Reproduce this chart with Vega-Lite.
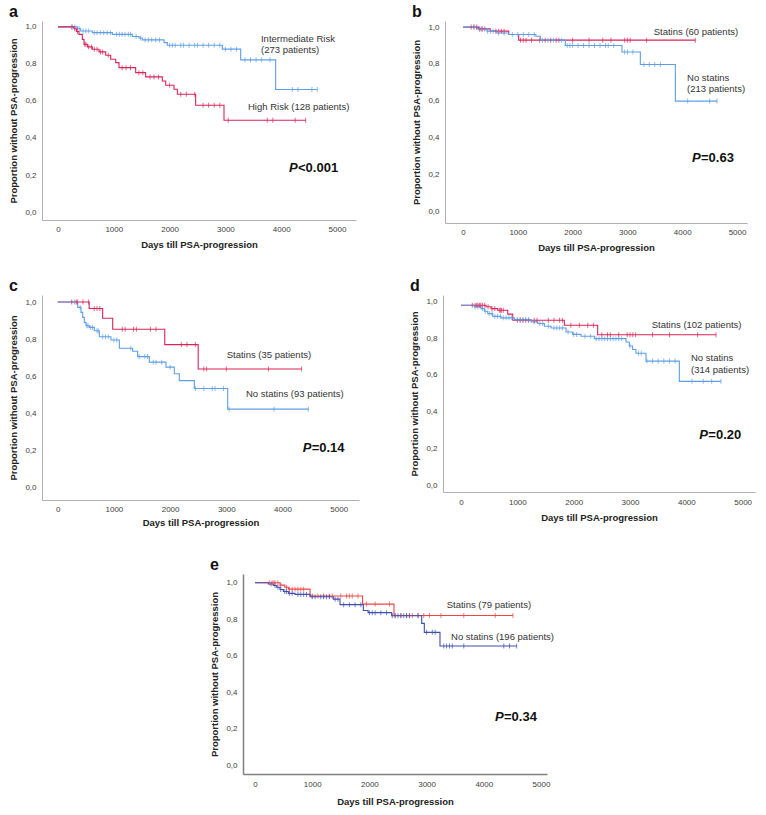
{
"$schema":"https://vega.github.io/schema/vega-lite/v6.json",
"background":"white",
"padding":{"left":8,"top":4,"right":5,"bottom":5},
"config":{"view":{"stroke":null},"font":"Liberation Sans",
 "locale":{"number":{"decimal":",","thousands":"","grouping":[3],"currency":["",""]}},
 "axis":{"domainColor":"#b0b0b0","domainWidth":1,"ticks":false,"grid":false,"labelOverlap":false,"labelFontSize":8,"labelColor":"#404040","titleFontSize":9.5,"titleFontWeight":"bold","titleColor":"#222222","labelFont":"Liberation Sans","titleFont":"Liberation Sans"},
 "axisY":{"labelOverlap":false,"labelBound":false,"tickCount":12},
 "axisX":{"tickCount":12},
 "title":{"anchor":"start","frame":"bounds","fontSize":16,"fontWeight":"bold","font":"Liberation Sans","color":"#111111","offset":1},
 "text":{"font":"Liberation Sans","fontSize":9.5,"color":"#333333","align":"left","baseline":"middle"}
},
"datasets":{
"a":[
{"g":"I","t":0,"s":1,"c":0},{"g":"I","t":350,"s":0.99,"c":0},{"g":"I","t":406,"s":0.978,"c":0},{"g":"I","t":615,"s":0.969,"c":0},{"g":"I","t":974,"s":0.96,"c":0},{"g":"I","t":1332,"s":0.948,"c":0},{"g":"I","t":1452,"s":0.94,"c":0},{"g":"I","t":1511,"s":0.93,"c":0},{"g":"I","t":1900,"s":0.915,"c":0},{"g":"I","t":1959,"s":0.901,"c":0},{"g":"I","t":2945,"s":0.88,"c":0},{"g":"I","t":3274,"s":0.822,"c":0},{"g":"I","t":3901,"s":0.662,"c":0},
{"g":"I","t":250,"s":1,"c":1},{"g":"I","t":300,"s":1,"c":1},{"g":"I","t":380,"s":0.99,"c":1},{"g":"I","t":450,"s":0.978,"c":1},{"g":"I","t":500,"s":0.978,"c":1},{"g":"I","t":550,"s":0.978,"c":1},{"g":"I","t":650,"s":0.969,"c":1},{"g":"I","t":700,"s":0.969,"c":1},{"g":"I","t":760,"s":0.969,"c":1},{"g":"I","t":820,"s":0.969,"c":1},{"g":"I","t":880,"s":0.969,"c":1},{"g":"I","t":940,"s":0.969,"c":1},{"g":"I","t":1050,"s":0.96,"c":1},{"g":"I","t":1100,"s":0.96,"c":1},{"g":"I","t":1150,"s":0.96,"c":1},{"g":"I","t":1200,"s":0.96,"c":1},{"g":"I","t":1260,"s":0.96,"c":1},{"g":"I","t":1300,"s":0.96,"c":1},{"g":"I","t":1400,"s":0.948,"c":1},{"g":"I","t":1480,"s":0.94,"c":1},{"g":"I","t":1560,"s":0.93,"c":1},{"g":"I","t":1620,"s":0.93,"c":1},{"g":"I","t":1680,"s":0.93,"c":1},{"g":"I","t":1750,"s":0.93,"c":1},{"g":"I","t":1820,"s":0.93,"c":1},{"g":"I","t":2000,"s":0.901,"c":1},{"g":"I","t":2050,"s":0.901,"c":1},{"g":"I","t":2100,"s":0.901,"c":1},{"g":"I","t":2200,"s":0.901,"c":1},{"g":"I","t":2250,"s":0.901,"c":1},{"g":"I","t":2350,"s":0.901,"c":1},{"g":"I","t":2450,"s":0.901,"c":1},{"g":"I","t":2500,"s":0.901,"c":1},{"g":"I","t":2600,"s":0.901,"c":1},{"g":"I","t":2700,"s":0.901,"c":1},{"g":"I","t":2800,"s":0.901,"c":1},{"g":"I","t":2900,"s":0.901,"c":1},{"g":"I","t":3000,"s":0.88,"c":1},{"g":"I","t":3100,"s":0.88,"c":1},{"g":"I","t":3200,"s":0.88,"c":1},{"g":"I","t":3350,"s":0.822,"c":1},{"g":"I","t":3450,"s":0.822,"c":1},{"g":"I","t":3550,"s":0.822,"c":1},{"g":"I","t":3650,"s":0.822,"c":1},{"g":"I","t":3800,"s":0.822,"c":1},{"g":"I","t":4200,"s":0.662,"c":1},{"g":"I","t":4300,"s":0.662,"c":1},{"g":"I","t":4550,"s":0.662,"c":1},{"g":"I","t":4648,"s":0.662,"c":1},
{"g":"H","t":0,"s":1,"c":0},{"g":"H","t":287,"s":0.99,"c":0},{"g":"H","t":330,"s":0.975,"c":0},{"g":"H","t":376,"s":0.96,"c":0},{"g":"H","t":436,"s":0.933,"c":0},{"g":"H","t":466,"s":0.906,"c":0},{"g":"H","t":526,"s":0.892,"c":0},{"g":"H","t":615,"s":0.879,"c":0},{"g":"H","t":735,"s":0.865,"c":0},{"g":"H","t":855,"s":0.847,"c":0},{"g":"H","t":944,"s":0.825,"c":0},{"g":"H","t":1034,"s":0.807,"c":0},{"g":"H","t":1093,"s":0.78,"c":0},{"g":"H","t":1392,"s":0.753,"c":0},{"g":"H","t":1571,"s":0.73,"c":0},{"g":"H","t":1870,"s":0.708,"c":0},{"g":"H","t":1930,"s":0.685,"c":0},{"g":"H","t":2079,"s":0.663,"c":0},{"g":"H","t":2139,"s":0.636,"c":0},{"g":"H","t":2467,"s":0.577,"c":0},{"g":"H","t":2975,"s":0.496,"c":0},
{"g":"H","t":250,"s":1,"c":1},{"g":"H","t":300,"s":0.99,"c":1},{"g":"H","t":350,"s":0.975,"c":1},{"g":"H","t":480,"s":0.906,"c":1},{"g":"H","t":500,"s":0.906,"c":1},{"g":"H","t":550,"s":0.892,"c":1},{"g":"H","t":600,"s":0.892,"c":1},{"g":"H","t":650,"s":0.879,"c":1},{"g":"H","t":700,"s":0.879,"c":1},{"g":"H","t":760,"s":0.865,"c":1},{"g":"H","t":800,"s":0.865,"c":1},{"g":"H","t":900,"s":0.847,"c":1},{"g":"H","t":1150,"s":0.78,"c":1},{"g":"H","t":1220,"s":0.78,"c":1},{"g":"H","t":1300,"s":0.78,"c":1},{"g":"H","t":1450,"s":0.753,"c":1},{"g":"H","t":1520,"s":0.753,"c":1},{"g":"H","t":1650,"s":0.73,"c":1},{"g":"H","t":1720,"s":0.73,"c":1},{"g":"H","t":1800,"s":0.73,"c":1},{"g":"H","t":2000,"s":0.685,"c":1},{"g":"H","t":2200,"s":0.636,"c":1},{"g":"H","t":2300,"s":0.636,"c":1},{"g":"H","t":2450,"s":0.636,"c":1},{"g":"H","t":2600,"s":0.577,"c":1},{"g":"H","t":2700,"s":0.577,"c":1},{"g":"H","t":2800,"s":0.577,"c":1},{"g":"H","t":2900,"s":0.577,"c":1},{"g":"H","t":3050,"s":0.496,"c":1},{"g":"H","t":3750,"s":0.496,"c":1},{"g":"H","t":3850,"s":0.496,"c":1},{"g":"H","t":4250,"s":0.496,"c":1},{"g":"H","t":4439,"s":0.496,"c":1}
],
"b":[
{"g":"S","t":0,"s":1,"c":0},{"g":"S","t":286,"s":0.99,"c":0},{"g":"S","t":499,"s":0.978,"c":0},{"g":"S","t":834,"s":0.96,"c":0},{"g":"S","t":1016,"s":0.929,"c":0},
{"g":"S","t":150,"s":1,"c":1},{"g":"S","t":200,"s":1,"c":1},{"g":"S","t":250,"s":1,"c":1},{"g":"S","t":300,"s":0.99,"c":1},{"g":"S","t":330,"s":0.99,"c":1},{"g":"S","t":360,"s":0.99,"c":1},{"g":"S","t":400,"s":0.99,"c":1},{"g":"S","t":600,"s":0.978,"c":1},{"g":"S","t":650,"s":0.978,"c":1},{"g":"S","t":700,"s":0.978,"c":1},{"g":"S","t":750,"s":0.978,"c":1},{"g":"S","t":1050,"s":0.929,"c":1},{"g":"S","t":1100,"s":0.929,"c":1},{"g":"S","t":1150,"s":0.929,"c":1},{"g":"S","t":1250,"s":0.929,"c":1},{"g":"S","t":1400,"s":0.929,"c":1},{"g":"S","t":1500,"s":0.929,"c":1},{"g":"S","t":1600,"s":0.929,"c":1},{"g":"S","t":1700,"s":0.929,"c":1},{"g":"S","t":1750,"s":0.929,"c":1},{"g":"S","t":2000,"s":0.929,"c":1},{"g":"S","t":2300,"s":0.929,"c":1},{"g":"S","t":2550,"s":0.929,"c":1},{"g":"S","t":2700,"s":0.929,"c":1},{"g":"S","t":2950,"s":0.929,"c":1},{"g":"S","t":3000,"s":0.929,"c":1},{"g":"S","t":3050,"s":0.929,"c":1},{"g":"S","t":3350,"s":0.929,"c":1},{"g":"S","t":4239,"s":0.929,"c":1},
{"g":"N","t":0,"s":1,"c":0},{"g":"N","t":255,"s":0.99,"c":0},{"g":"N","t":438,"s":0.978,"c":0},{"g":"N","t":620,"s":0.968,"c":0},{"g":"N","t":834,"s":0.96,"c":0},{"g":"N","t":1330,"s":0.95,"c":0},{"g":"N","t":1411,"s":0.929,"c":0},{"g":"N","t":1867,"s":0.9,"c":0},{"g":"N","t":2901,"s":0.865,"c":0},{"g":"N","t":3236,"s":0.797,"c":0},{"g":"N","t":3875,"s":0.598,"c":0},
{"g":"N","t":200,"s":1,"c":1},{"g":"N","t":300,"s":0.99,"c":1},{"g":"N","t":350,"s":0.99,"c":1},{"g":"N","t":450,"s":0.978,"c":1},{"g":"N","t":500,"s":0.978,"c":1},{"g":"N","t":550,"s":0.978,"c":1},{"g":"N","t":650,"s":0.968,"c":1},{"g":"N","t":750,"s":0.968,"c":1},{"g":"N","t":900,"s":0.96,"c":1},{"g":"N","t":1000,"s":0.96,"c":1},{"g":"N","t":1100,"s":0.96,"c":1},{"g":"N","t":1200,"s":0.96,"c":1},{"g":"N","t":1300,"s":0.96,"c":1},{"g":"N","t":1450,"s":0.929,"c":1},{"g":"N","t":1550,"s":0.929,"c":1},{"g":"N","t":1650,"s":0.929,"c":1},{"g":"N","t":1800,"s":0.929,"c":1},{"g":"N","t":1900,"s":0.9,"c":1},{"g":"N","t":1950,"s":0.9,"c":1},{"g":"N","t":2000,"s":0.9,"c":1},{"g":"N","t":2100,"s":0.9,"c":1},{"g":"N","t":2200,"s":0.9,"c":1},{"g":"N","t":2300,"s":0.9,"c":1},{"g":"N","t":2400,"s":0.9,"c":1},{"g":"N","t":2500,"s":0.9,"c":1},{"g":"N","t":2600,"s":0.9,"c":1},{"g":"N","t":2650,"s":0.9,"c":1},{"g":"N","t":2750,"s":0.9,"c":1},{"g":"N","t":2950,"s":0.865,"c":1},{"g":"N","t":3000,"s":0.865,"c":1},{"g":"N","t":3100,"s":0.865,"c":1},{"g":"N","t":3300,"s":0.797,"c":1},{"g":"N","t":3400,"s":0.797,"c":1},{"g":"N","t":3500,"s":0.797,"c":1},{"g":"N","t":3600,"s":0.797,"c":1},{"g":"N","t":4100,"s":0.598,"c":1},{"g":"N","t":4500,"s":0.598,"c":1},{"g":"N","t":4635,"s":0.598,"c":1}
],
"c":[
{"g":"S","t":0,"s":1,"c":0},{"g":"S","t":560,"s":0.965,"c":0},{"g":"S","t":800,"s":0.912,"c":0},{"g":"S","t":979,"s":0.853,"c":0},{"g":"S","t":1905,"s":0.77,"c":0},{"g":"S","t":2500,"s":0.638,"c":0},
{"g":"S","t":250,"s":1,"c":1},{"g":"S","t":330,"s":1,"c":1},{"g":"S","t":350,"s":1,"c":1},{"g":"S","t":450,"s":1,"c":1},{"g":"S","t":550,"s":1,"c":1},{"g":"S","t":650,"s":0.965,"c":1},{"g":"S","t":700,"s":0.965,"c":1},{"g":"S","t":750,"s":0.965,"c":1},{"g":"S","t":1150,"s":0.853,"c":1},{"g":"S","t":1200,"s":0.853,"c":1},{"g":"S","t":1350,"s":0.853,"c":1},{"g":"S","t":1400,"s":0.853,"c":1},{"g":"S","t":1650,"s":0.853,"c":1},{"g":"S","t":1750,"s":0.853,"c":1},{"g":"S","t":2200,"s":0.77,"c":1},{"g":"S","t":2300,"s":0.77,"c":1},{"g":"S","t":2450,"s":0.77,"c":1},{"g":"S","t":2600,"s":0.638,"c":1},{"g":"S","t":2650,"s":0.638,"c":1},{"g":"S","t":3000,"s":0.638,"c":1},{"g":"S","t":3750,"s":0.638,"c":1},{"g":"S","t":4340,"s":0.638,"c":1},
{"g":"N","t":0,"s":1,"c":0},{"g":"N","t":356,"s":0.971,"c":0},{"g":"N","t":415,"s":0.944,"c":0},{"g":"N","t":445,"s":0.917,"c":0},{"g":"N","t":474,"s":0.89,"c":0},{"g":"N","t":504,"s":0.872,"c":0},{"g":"N","t":563,"s":0.863,"c":0},{"g":"N","t":652,"s":0.845,"c":0},{"g":"N","t":741,"s":0.812,"c":0},{"g":"N","t":948,"s":0.795,"c":0},{"g":"N","t":1097,"s":0.75,"c":0},{"g":"N","t":1334,"s":0.734,"c":0},{"g":"N","t":1423,"s":0.705,"c":0},{"g":"N","t":1630,"s":0.675,"c":0},{"g":"N","t":1927,"s":0.648,"c":0},{"g":"N","t":2075,"s":0.612,"c":0},{"g":"N","t":2164,"s":0.575,"c":0},{"g":"N","t":2431,"s":0.533,"c":0},{"g":"N","t":3025,"s":0.421,"c":0},
{"g":"N","t":300,"s":1,"c":1},{"g":"N","t":400,"s":0.971,"c":1},{"g":"N","t":520,"s":0.872,"c":1},{"g":"N","t":540,"s":0.872,"c":1},{"g":"N","t":580,"s":0.863,"c":1},{"g":"N","t":620,"s":0.863,"c":1},{"g":"N","t":700,"s":0.845,"c":1},{"g":"N","t":720,"s":0.845,"c":1},{"g":"N","t":800,"s":0.812,"c":1},{"g":"N","t":850,"s":0.812,"c":1},{"g":"N","t":900,"s":0.812,"c":1},{"g":"N","t":1000,"s":0.795,"c":1},{"g":"N","t":1050,"s":0.795,"c":1},{"g":"N","t":1300,"s":0.75,"c":1},{"g":"N","t":1450,"s":0.705,"c":1},{"g":"N","t":1550,"s":0.705,"c":1},{"g":"N","t":1600,"s":0.705,"c":1},{"g":"N","t":1700,"s":0.675,"c":1},{"g":"N","t":1750,"s":0.675,"c":1},{"g":"N","t":1850,"s":0.675,"c":1},{"g":"N","t":2000,"s":0.648,"c":1},{"g":"N","t":2450,"s":0.533,"c":1},{"g":"N","t":2600,"s":0.533,"c":1},{"g":"N","t":2750,"s":0.533,"c":1},{"g":"N","t":2800,"s":0.533,"c":1},{"g":"N","t":2950,"s":0.533,"c":1},{"g":"N","t":3050,"s":0.421,"c":1},{"g":"N","t":3850,"s":0.421,"c":1},{"g":"N","t":4460,"s":0.421,"c":1}
],
"d":[
{"g":"S","t":0,"s":0.978,"c":0},{"g":"S","t":444,"s":0.97,"c":0},{"g":"S","t":533,"s":0.96,"c":0},{"g":"S","t":651,"s":0.951,"c":0},{"g":"S","t":829,"s":0.93,"c":0},{"g":"S","t":918,"s":0.897,"c":0},{"g":"S","t":1834,"s":0.87,"c":0},{"g":"S","t":2426,"s":0.818,"c":0},
{"g":"S","t":200,"s":0.978,"c":1},{"g":"S","t":250,"s":0.978,"c":1},{"g":"S","t":280,"s":0.978,"c":1},{"g":"S","t":300,"s":0.978,"c":1},{"g":"S","t":330,"s":0.978,"c":1},{"g":"S","t":350,"s":0.978,"c":1},{"g":"S","t":380,"s":0.978,"c":1},{"g":"S","t":420,"s":0.978,"c":1},{"g":"S","t":480,"s":0.97,"c":1},{"g":"S","t":550,"s":0.96,"c":1},{"g":"S","t":600,"s":0.96,"c":1},{"g":"S","t":680,"s":0.951,"c":1},{"g":"S","t":700,"s":0.951,"c":1},{"g":"S","t":720,"s":0.951,"c":1},{"g":"S","t":750,"s":0.951,"c":1},{"g":"S","t":1000,"s":0.897,"c":1},{"g":"S","t":1050,"s":0.897,"c":1},{"g":"S","t":1100,"s":0.897,"c":1},{"g":"S","t":1150,"s":0.897,"c":1},{"g":"S","t":1200,"s":0.897,"c":1},{"g":"S","t":1300,"s":0.897,"c":1},{"g":"S","t":1350,"s":0.897,"c":1},{"g":"S","t":1550,"s":0.897,"c":1},{"g":"S","t":1650,"s":0.897,"c":1},{"g":"S","t":1750,"s":0.897,"c":1},{"g":"S","t":1800,"s":0.897,"c":1},{"g":"S","t":1950,"s":0.87,"c":1},{"g":"S","t":2100,"s":0.87,"c":1},{"g":"S","t":2250,"s":0.87,"c":1},{"g":"S","t":2350,"s":0.87,"c":1},{"g":"S","t":2500,"s":0.818,"c":1},{"g":"S","t":2600,"s":0.818,"c":1},{"g":"S","t":2650,"s":0.818,"c":1},{"g":"S","t":2800,"s":0.818,"c":1},{"g":"S","t":2950,"s":0.818,"c":1},{"g":"S","t":3000,"s":0.818,"c":1},{"g":"S","t":3050,"s":0.818,"c":1},{"g":"S","t":3100,"s":0.818,"c":1},{"g":"S","t":3400,"s":0.818,"c":1},{"g":"S","t":3700,"s":0.818,"c":1},{"g":"S","t":4200,"s":0.818,"c":1},{"g":"S","t":4527,"s":0.818,"c":1},
{"g":"N","t":0,"s":0.978,"c":0},{"g":"N","t":237,"s":0.97,"c":0},{"g":"N","t":355,"s":0.96,"c":0},{"g":"N","t":414,"s":0.946,"c":0},{"g":"N","t":474,"s":0.933,"c":0},{"g":"N","t":562,"s":0.918,"c":0},{"g":"N","t":710,"s":0.91,"c":0},{"g":"N","t":947,"s":0.9,"c":0},{"g":"N","t":1243,"s":0.888,"c":0},{"g":"N","t":1361,"s":0.879,"c":0},{"g":"N","t":1480,"s":0.864,"c":0},{"g":"N","t":1598,"s":0.855,"c":0},{"g":"N","t":1864,"s":0.833,"c":0},{"g":"N","t":1982,"s":0.82,"c":0},{"g":"N","t":2130,"s":0.81,"c":0},{"g":"N","t":2367,"s":0.797,"c":0},{"g":"N","t":2929,"s":0.779,"c":0},{"g":"N","t":2988,"s":0.757,"c":0},{"g":"N","t":3047,"s":0.738,"c":0},{"g":"N","t":3106,"s":0.718,"c":0},{"g":"N","t":3284,"s":0.675,"c":0},{"g":"N","t":3876,"s":0.565,"c":0},
{"g":"N","t":250,"s":0.97,"c":1},{"g":"N","t":300,"s":0.97,"c":1},{"g":"N","t":380,"s":0.96,"c":1},{"g":"N","t":430,"s":0.946,"c":1},{"g":"N","t":500,"s":0.933,"c":1},{"g":"N","t":550,"s":0.933,"c":1},{"g":"N","t":600,"s":0.918,"c":1},{"g":"N","t":650,"s":0.918,"c":1},{"g":"N","t":700,"s":0.918,"c":1},{"g":"N","t":750,"s":0.91,"c":1},{"g":"N","t":800,"s":0.91,"c":1},{"g":"N","t":850,"s":0.91,"c":1},{"g":"N","t":900,"s":0.91,"c":1},{"g":"N","t":1000,"s":0.9,"c":1},{"g":"N","t":1050,"s":0.9,"c":1},{"g":"N","t":1100,"s":0.9,"c":1},{"g":"N","t":1150,"s":0.9,"c":1},{"g":"N","t":1200,"s":0.9,"c":1},{"g":"N","t":1300,"s":0.888,"c":1},{"g":"N","t":1400,"s":0.879,"c":1},{"g":"N","t":1450,"s":0.879,"c":1},{"g":"N","t":1550,"s":0.864,"c":1},{"g":"N","t":1650,"s":0.855,"c":1},{"g":"N","t":1700,"s":0.855,"c":1},{"g":"N","t":1750,"s":0.855,"c":1},{"g":"N","t":1800,"s":0.855,"c":1},{"g":"N","t":1900,"s":0.833,"c":1},{"g":"N","t":2000,"s":0.82,"c":1},{"g":"N","t":2050,"s":0.82,"c":1},{"g":"N","t":2200,"s":0.81,"c":1},{"g":"N","t":2300,"s":0.81,"c":1},{"g":"N","t":2400,"s":0.797,"c":1},{"g":"N","t":2450,"s":0.797,"c":1},{"g":"N","t":2500,"s":0.797,"c":1},{"g":"N","t":2550,"s":0.797,"c":1},{"g":"N","t":2600,"s":0.797,"c":1},{"g":"N","t":2650,"s":0.797,"c":1},{"g":"N","t":2700,"s":0.797,"c":1},{"g":"N","t":2750,"s":0.797,"c":1},{"g":"N","t":2800,"s":0.797,"c":1},{"g":"N","t":2850,"s":0.797,"c":1},{"g":"N","t":3000,"s":0.757,"c":1},{"g":"N","t":3150,"s":0.718,"c":1},{"g":"N","t":3200,"s":0.718,"c":1},{"g":"N","t":3300,"s":0.675,"c":1},{"g":"N","t":3400,"s":0.675,"c":1},{"g":"N","t":3500,"s":0.675,"c":1},{"g":"N","t":3600,"s":0.675,"c":1},{"g":"N","t":3700,"s":0.675,"c":1},{"g":"N","t":3800,"s":0.675,"c":1},{"g":"N","t":4100,"s":0.565,"c":1},{"g":"N","t":4300,"s":0.565,"c":1},{"g":"N","t":4450,"s":0.565,"c":1},{"g":"N","t":4615,"s":0.565,"c":1}
],
"e":[
{"g":"S","t":0,"s":1,"c":0},{"g":"S","t":437,"s":0.987,"c":0},{"g":"S","t":520,"s":0.975,"c":0},{"g":"S","t":583,"s":0.965,"c":0},{"g":"S","t":962,"s":0.927,"c":0},{"g":"S","t":1880,"s":0.883,"c":0},{"g":"S","t":2430,"s":0.82,"c":0},
{"g":"S","t":250,"s":1,"c":1},{"g":"S","t":300,"s":1,"c":1},{"g":"S","t":330,"s":1,"c":1},{"g":"S","t":350,"s":1,"c":1},{"g":"S","t":400,"s":1,"c":1},{"g":"S","t":450,"s":0.987,"c":1},{"g":"S","t":550,"s":0.975,"c":1},{"g":"S","t":600,"s":0.965,"c":1},{"g":"S","t":650,"s":0.965,"c":1},{"g":"S","t":700,"s":0.965,"c":1},{"g":"S","t":750,"s":0.965,"c":1},{"g":"S","t":800,"s":0.965,"c":1},{"g":"S","t":850,"s":0.965,"c":1},{"g":"S","t":1000,"s":0.927,"c":1},{"g":"S","t":1100,"s":0.927,"c":1},{"g":"S","t":1200,"s":0.927,"c":1},{"g":"S","t":1300,"s":0.927,"c":1},{"g":"S","t":1350,"s":0.927,"c":1},{"g":"S","t":1500,"s":0.927,"c":1},{"g":"S","t":1600,"s":0.927,"c":1},{"g":"S","t":1650,"s":0.927,"c":1},{"g":"S","t":1700,"s":0.927,"c":1},{"g":"S","t":1800,"s":0.927,"c":1},{"g":"S","t":1950,"s":0.883,"c":1},{"g":"S","t":2100,"s":0.883,"c":1},{"g":"S","t":2350,"s":0.883,"c":1},{"g":"S","t":2450,"s":0.82,"c":1},{"g":"S","t":2550,"s":0.82,"c":1},{"g":"S","t":2650,"s":0.82,"c":1},{"g":"S","t":2700,"s":0.82,"c":1},{"g":"S","t":2750,"s":0.82,"c":1},{"g":"S","t":2850,"s":0.82,"c":1},{"g":"S","t":2950,"s":0.82,"c":1},{"g":"S","t":3050,"s":0.82,"c":1},{"g":"S","t":3250,"s":0.82,"c":1},{"g":"S","t":3650,"s":0.82,"c":1},{"g":"S","t":4200,"s":0.82,"c":1},{"g":"S","t":4510,"s":0.82,"c":1},
{"g":"N","t":0,"s":1,"c":0},{"g":"N","t":233,"s":0.993,"c":0},{"g":"N","t":320,"s":0.985,"c":0},{"g":"N","t":379,"s":0.975,"c":0},{"g":"N","t":437,"s":0.963,"c":0},{"g":"N","t":496,"s":0.952,"c":0},{"g":"N","t":583,"s":0.942,"c":0},{"g":"N","t":700,"s":0.936,"c":0},{"g":"N","t":962,"s":0.923,"c":0},{"g":"N","t":1369,"s":0.91,"c":0},{"g":"N","t":1486,"s":0.88,"c":0},{"g":"N","t":1894,"s":0.848,"c":0},{"g":"N","t":1977,"s":0.836,"c":0},{"g":"N","t":2389,"s":0.819,"c":0},{"g":"N","t":2914,"s":0.777,"c":0},{"g":"N","t":2960,"s":0.728,"c":0},{"g":"N","t":3234,"s":0.653,"c":0},
{"g":"N","t":280,"s":0.993,"c":1},{"g":"N","t":350,"s":0.985,"c":1},{"g":"N","t":400,"s":0.975,"c":1},{"g":"N","t":450,"s":0.963,"c":1},{"g":"N","t":520,"s":0.952,"c":1},{"g":"N","t":550,"s":0.952,"c":1},{"g":"N","t":600,"s":0.942,"c":1},{"g":"N","t":650,"s":0.942,"c":1},{"g":"N","t":750,"s":0.936,"c":1},{"g":"N","t":800,"s":0.936,"c":1},{"g":"N","t":850,"s":0.936,"c":1},{"g":"N","t":900,"s":0.936,"c":1},{"g":"N","t":1000,"s":0.923,"c":1},{"g":"N","t":1050,"s":0.923,"c":1},{"g":"N","t":1150,"s":0.923,"c":1},{"g":"N","t":1200,"s":0.923,"c":1},{"g":"N","t":1250,"s":0.923,"c":1},{"g":"N","t":1300,"s":0.923,"c":1},{"g":"N","t":1400,"s":0.91,"c":1},{"g":"N","t":1450,"s":0.91,"c":1},{"g":"N","t":1550,"s":0.88,"c":1},{"g":"N","t":1650,"s":0.88,"c":1},{"g":"N","t":1750,"s":0.88,"c":1},{"g":"N","t":1850,"s":0.88,"c":1},{"g":"N","t":2000,"s":0.836,"c":1},{"g":"N","t":2050,"s":0.836,"c":1},{"g":"N","t":2100,"s":0.836,"c":1},{"g":"N","t":2200,"s":0.836,"c":1},{"g":"N","t":2300,"s":0.836,"c":1},{"g":"N","t":2400,"s":0.819,"c":1},{"g":"N","t":2450,"s":0.819,"c":1},{"g":"N","t":2500,"s":0.819,"c":1},{"g":"N","t":2550,"s":0.819,"c":1},{"g":"N","t":2600,"s":0.819,"c":1},{"g":"N","t":2650,"s":0.819,"c":1},{"g":"N","t":2700,"s":0.819,"c":1},{"g":"N","t":2850,"s":0.819,"c":1},{"g":"N","t":3000,"s":0.728,"c":1},{"g":"N","t":3100,"s":0.728,"c":1},{"g":"N","t":3150,"s":0.728,"c":1},{"g":"N","t":3300,"s":0.653,"c":1},{"g":"N","t":3350,"s":0.653,"c":1},{"g":"N","t":3400,"s":0.653,"c":1},{"g":"N","t":3450,"s":0.653,"c":1},{"g":"N","t":3650,"s":0.653,"c":1},{"g":"N","t":4350,"s":0.653,"c":1},{"g":"N","t":4450,"s":0.653,"c":1},{"g":"N","t":4575,"s":0.653,"c":1}
]
},
"spacing":30,
"center":true,
"resolve":{"scale":{"color":"independent"}},
"vconcat":[
{"spacing":26,"resolve":{"scale":{"color":"independent"}},"vconcat":[
{"hconcat":[
{"title":"a","width":314,"height":199,"data":{"name":"a"},
 "layer":[
 {"mark":{"type":"line","interpolate":"step-after","strokeWidth":1.1},
  "encoding":{"x":{"field":"t","type":"quantitative","scale":{"domain":[-287,5341],"nice":false,"zero":false},"axis":{"values":[0,1000,2000,3000,4000,5000],"tickCount":12,"format":"d","title":"Days till PSA-progression","labelPadding":5,"titlePadding":6}},
   "y":{"field":"s","type":"quantitative","scale":{"domain":[-0.043,1.032],"nice":false,"zero":false},"axis":{"values":[0,0.2,0.4,0.6,0.8,1],"tickCount":12,"format":".1f","labelOverlap":false,"title":"Proportion without PSA-progression","labelPadding":6,"titlePadding":6}},
   "color":{"field":"g","type":"nominal","scale":{"domain":["I","H"],"range":["#5e9ee6","#d9245a"]},"legend":null}}},
 {"transform":[{"filter":"datum.c==1"}],"mark":{"type":"tick","orient":"vertical","size":5,"thickness":1},
  "encoding":{"x":{"field":"t","type":"quantitative"},"y":{"field":"s","type":"quantitative"},"color":{"field":"g","type":"nominal","legend":null}}},
 {"data":{"values":[{}]},"mark":{"type":"text","text":"Intermediate Risk"},"encoding":{"x":{"datum":3638,"type":"quantitative"},"y":{"datum":0.933,"type":"quantitative"}}},
 {"data":{"values":[{}]},"mark":{"type":"text","text":"(273 patients)"},"encoding":{"x":{"datum":3638,"type":"quantitative"},"y":{"datum":0.876,"type":"quantitative"}}},
 {"data":{"values":[{}]},"mark":{"type":"text","text":"High Risk (128 patients)"},"encoding":{"x":{"datum":3405,"type":"quantitative"},"y":{"datum":0.568,"type":"quantitative"}}},
 {"data":{"values":[{}]},"mark":{"type":"text","text":"P","fontSize":13,"fontWeight":"bold","fontStyle":"italic","color":"#111111"},"encoding":{"x":{"datum":4140,"type":"quantitative"},"y":{"datum":0.239,"type":"quantitative"}}},
 {"data":{"values":[{}]},"mark":{"type":"text","text":"<0.001","fontSize":13,"fontWeight":"bold","dx":9,"color":"#111111"},"encoding":{"x":{"datum":4140,"type":"quantitative"},"y":{"datum":0.239,"type":"quantitative"}}}
 ]},
{"title":"b","width":302,"height":202,"data":{"name":"b"},
 "layer":[
 {"mark":{"type":"line","interpolate":"step-after","strokeWidth":1.1},
  "encoding":{"x":{"field":"t","type":"quantitative","scale":{"domain":[-328,5182],"nice":false,"zero":false},"axis":{"values":[0,1000,2000,3000,4000,5000],"tickCount":12,"format":"d","title":"Days till PSA-progression","labelPadding":5,"titlePadding":6}},
   "y":{"field":"s","type":"quantitative","scale":{"domain":[-0.064,1.033],"nice":false,"zero":false},"axis":{"values":[0,0.2,0.4,0.6,0.8,1],"tickCount":12,"format":".1f","labelOverlap":false,"title":"Proportion without PSA-progression","labelPadding":6,"titlePadding":6}},
   "color":{"field":"g","type":"nominal","scale":{"domain":["N","S"],"range":["#5e9ee6","#d9245a"]},"legend":null}}},
 {"transform":[{"filter":"datum.c==1"}],"mark":{"type":"tick","orient":"vertical","size":5,"thickness":1},
  "encoding":{"x":{"field":"t","type":"quantitative"},"y":{"field":"s","type":"quantitative"},"color":{"field":"g","type":"nominal","legend":null}}},
 {"data":{"values":[{}]},"mark":{"type":"text","text":"Statins (60 patients)"},"encoding":{"x":{"datum":3480,"type":"quantitative"},"y":{"datum":0.975,"type":"quantitative"}}},
 {"data":{"values":[{}]},"mark":{"type":"text","text":"No statins"},"encoding":{"x":{"datum":4088,"type":"quantitative"},"y":{"datum":0.725,"type":"quantitative"}}},
 {"data":{"values":[{}]},"mark":{"type":"text","text":"(213 patients)"},"encoding":{"x":{"datum":4088,"type":"quantitative"},"y":{"datum":0.662,"type":"quantitative"}}},
 {"data":{"values":[{}]},"mark":{"type":"text","text":"P","fontSize":13,"fontWeight":"bold","fontStyle":"italic","color":"#111111"},"encoding":{"x":{"datum":4179,"type":"quantitative"},"y":{"datum":0.288,"type":"quantitative"}}},
 {"data":{"values":[{}]},"mark":{"type":"text","text":"=0.63","fontSize":13,"fontWeight":"bold","dx":9,"color":"#111111"},"encoding":{"x":{"datum":4179,"type":"quantitative"},"y":{"datum":0.288,"type":"quantitative"}}}
 ]}
],"spacing":55},
{"hconcat":[
{"title":"c","width":317,"height":205,"data":{"name":"c"},
 "layer":[
 {"mark":{"type":"line","interpolate":"step-after","strokeWidth":1.1},
  "encoding":{"x":{"field":"t","type":"quantitative","scale":{"domain":[-279,5361],"nice":false,"zero":false},"axis":{"values":[0,1000,2000,3000,4000,5000],"tickCount":12,"format":"d","title":"Days till PSA-progression","labelPadding":5,"titlePadding":4}},
   "y":{"field":"s","type":"quantitative","scale":{"domain":[-0.07,1.038],"nice":false,"zero":false},"axis":{"values":[0,0.2,0.4,0.6,0.8,1],"tickCount":12,"format":".1f","labelOverlap":false,"title":"Proportion without PSA-progression","labelPadding":6,"titlePadding":6}},
   "color":{"field":"g","type":"nominal","scale":{"domain":["N","S"],"range":["#5e9ee6","#d9245a"]},"legend":null}}},
 {"transform":[{"filter":"datum.c==1"}],"mark":{"type":"tick","orient":"vertical","size":5,"thickness":1},
  "encoding":{"x":{"field":"t","type":"quantitative"},"y":{"field":"s","type":"quantitative"},"color":{"field":"g","type":"nominal","legend":null}}},
 {"data":{"values":[{}]},"mark":{"type":"text","text":"Statins (35 patients)"},"encoding":{"x":{"datum":3007,"type":"quantitative"},"y":{"datum":0.715,"type":"quantitative"}}},
 {"data":{"values":[{}]},"mark":{"type":"text","text":"No statins (93 patients)"},"encoding":{"x":{"datum":3350,"type":"quantitative"},"y":{"datum":0.504,"type":"quantitative"}}},
 {"data":{"values":[{}]},"mark":{"type":"text","text":"P","fontSize":13,"fontWeight":"bold","fontStyle":"italic","color":"#111111"},"encoding":{"x":{"datum":4359,"type":"quantitative"},"y":{"datum":0.211,"type":"quantitative"}}},
 {"data":{"values":[{}]},"mark":{"type":"text","text":"=0.14","fontSize":13,"fontWeight":"bold","dx":9,"color":"#111111"},"encoding":{"x":{"datum":4359,"type":"quantitative"},"y":{"datum":0.211,"type":"quantitative"}}}
 ]},
{"title":"d","width":312,"height":197,"data":{"name":"d"},
 "layer":[
 {"mark":{"type":"line","interpolate":"step-after","strokeWidth":1.1},
  "encoding":{"x":{"field":"t","type":"quantitative","scale":{"domain":[-320,5219],"nice":false,"zero":false},"axis":{"values":[0,1000,2000,3000,4000,5000],"tickCount":12,"format":"d","title":"Days till PSA-progression","labelPadding":6,"titlePadding":6}},
   "y":{"field":"s","type":"quantitative","scale":{"domain":[-0.036,1.034],"nice":false,"zero":false},"axis":{"values":[0,0.2,0.4,0.6,0.8,1],"tickCount":12,"format":".1f","labelOverlap":false,"title":"Proportion without PSA-progression","labelPadding":6,"titlePadding":6}},
   "color":{"field":"g","type":"nominal","scale":{"domain":["N","S"],"range":["#5e9ee6","#d9245a"]},"legend":null}}},
 {"transform":[{"filter":"datum.c==1"}],"mark":{"type":"tick","orient":"vertical","size":5,"thickness":1},
  "encoding":{"x":{"field":"t","type":"quantitative"},"y":{"field":"s","type":"quantitative"},"color":{"field":"g","type":"nominal","legend":null}}},
 {"data":{"values":[{}]},"mark":{"type":"text","text":"Statins (102 patients)"},"encoding":{"x":{"datum":3385,"type":"quantitative"},"y":{"datum":0.873,"type":"quantitative"}}},
 {"data":{"values":[{}]},"mark":{"type":"text","text":"No statins"},"encoding":{"x":{"datum":4083,"type":"quantitative"},"y":{"datum":0.694,"type":"quantitative"}}},
 {"data":{"values":[{}]},"mark":{"type":"text","text":"(314 patients)"},"encoding":{"x":{"datum":4083,"type":"quantitative"},"y":{"datum":0.628,"type":"quantitative"}}},
 {"data":{"values":[{}]},"mark":{"type":"text","text":"P","fontSize":13,"fontWeight":"bold","fontStyle":"italic","color":"#111111"},"encoding":{"x":{"datum":4231,"type":"quantitative"},"y":{"datum":0.272,"type":"quantitative"}}},
 {"data":{"values":[{}]},"mark":{"type":"text","text":"=0.20","fontSize":13,"fontWeight":"bold","dx":9,"color":"#111111"},"encoding":{"x":{"datum":4231,"type":"quantitative"},"y":{"datum":0.272,"type":"quantitative"}}}
 ]}
],"spacing":50}
]},
{"title":"e","width":304,"height":200,"data":{"name":"e"},
 "layer":[
 {"mark":{"type":"line","interpolate":"step-after","strokeWidth":1.1},
  "encoding":{"x":{"field":"t","type":"quantitative","scale":{"domain":[-210,5105],"nice":false,"zero":false},"axis":{"values":[0,1000,2000,3000,4000,5000],"tickCount":12,"format":"d","title":"Days till PSA-progression","labelPadding":6,"titlePadding":8,"domainColor":"#808080","domainWidth":1.5}},
   "y":{"field":"s","type":"quantitative","scale":{"domain":[-0.049,1.048],"nice":false,"zero":false},"axis":{"values":[0,0.2,0.4,0.6,0.8,1],"tickCount":12,"format":".1f","labelOverlap":false,"title":"Proportion without PSA-progression","labelPadding":6,"titlePadding":6,"domainColor":"#808080","domainWidth":1.5}},
   "color":{"field":"g","type":"nominal","scale":{"domain":["N","S"],"range":["#3e4fae","#ee4444"]},"legend":null}}},
 {"transform":[{"filter":"datum.c==1"}],"mark":{"type":"tick","orient":"vertical","size":5,"thickness":1},
  "encoding":{"x":{"field":"t","type":"quantitative"},"y":{"field":"s","type":"quantitative"},"color":{"field":"g","type":"nominal","legend":null}}},
 {"data":{"values":[{}]},"mark":{"type":"text","text":"Statins (79 patients)"},"encoding":{"x":{"datum":3351,"type":"quantitative"},"y":{"datum":0.877,"type":"quantitative"}}},
 {"data":{"values":[{}]},"mark":{"type":"text","text":"No statins (196 patients)"},"encoding":{"x":{"datum":3427,"type":"quantitative"},"y":{"datum":0.70,"type":"quantitative"}}},
 {"data":{"values":[{}]},"mark":{"type":"text","text":"P","fontSize":13,"fontWeight":"bold","fontStyle":"italic","color":"#111111"},"encoding":{"x":{"datum":4196,"type":"quantitative"},"y":{"datum":0.265,"type":"quantitative"}}},
 {"data":{"values":[{}]},"mark":{"type":"text","text":"=0.34","fontSize":13,"fontWeight":"bold","dx":9,"color":"#111111"},"encoding":{"x":{"datum":4196,"type":"quantitative"},"y":{"datum":0.265,"type":"quantitative"}}}
 ]}
]
}
